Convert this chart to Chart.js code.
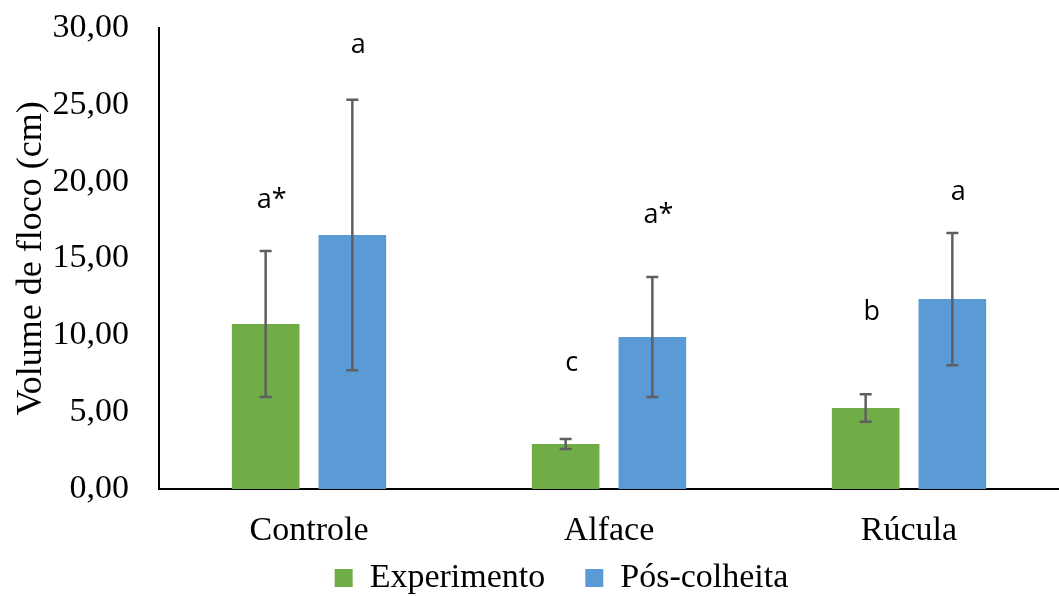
<!DOCTYPE html>
<html>
<head>
<meta charset="utf-8">
<script src="https://cdn.jsdelivr.net/npm/chart.js@4.4.1/dist/chart.umd.min.js"></script>
<style>
    html, body { margin: 0; padding: 0; background: #ffffff; }
    #wrap { width: 1059px; height: 596px; }
</style>
</head>
<body>
<div id="wrap"><canvas id="chart"></canvas></div>
<script>
// Dados
const categorias = ['Controle', 'Alface', 'Rúcula'];
const experimento = [10.74, 2.93, 5.27];
const posColheita = [16.53, 9.89, 12.36];
const erroExperimento = [4.75, 0.33, 0.90];
const erroPosColheita = [8.80, 3.90, 4.30];
const letrasExperimento = ['a*', 'c', 'b'];
const letrasPosColheita = ['a', 'a*', 'a'];
// altura (em cm) onde as letras aparecem
const alturaLetrasExp = [18.8, 8.2, 11.5];
const alturaLetrasPos = [28.9, 17.8, 19.3];

const serif = "'Liberation Serif', 'Times New Roman', serif";

/**
 * Barras de erro e letras de significância
 */
const errorBarsPlugin = {
    id: 'errorBars',
    afterDatasetsDraw(chart) {
        const ctx = chart.ctx;
        const y = chart.scales.y;
        const erros = [erroExperimento, erroPosColheita];
        const letras = [letrasExperimento, letrasPosColheita];
        const alturas = [alturaLetrasExp, alturaLetrasPos];

        chart.data.datasets.forEach((ds, i) => {
            const meta = chart.getDatasetMeta(i);
            meta.data.forEach((bar, j) => {
                const v = ds.data[j];
                const top = y.getPixelForValue(v + erros[i][j]);
                const bottom = y.getPixelForValue(v - erros[i][j]);
                ctx.save();
                ctx.strokeStyle = '#5f5f5f';
                ctx.lineWidth = 2.5;
                ctx.beginPath();
                ctx.moveTo(bar.x, top);
                ctx.lineTo(bar.x, bottom);
                ctx.moveTo(bar.x - 6, top);
                ctx.lineTo(bar.x + 6, top);
                ctx.moveTo(bar.x - 6, bottom);
                ctx.lineTo(bar.x + 6, bottom);
                ctx.stroke();

                ctx.fillStyle = '#000000';
                ctx.font = "27px 'Open Sans', sans-serif";
                ctx.textAlign = 'center';
                ctx.textBaseline = 'middle';
                ctx.fillText(letras[i][j], bar.x + 6, y.getPixelForValue(alturas[i][j]));
                ctx.restore();
            });
        });
    }
};

/**
 * Legenda: altura fixa e deslocamento como no original
 */
const legendFitPlugin = {
    id: 'legendFit',
    beforeLayout(chart) {
        const lg = chart.legend;
        if (lg && !lg._fitPatched) {
            const fit = lg.fit;
            lg.fit = function () {
                fit.call(this);
                this.height = 49;
            };
            lg._fitPatched = true;
        }
    },
    afterLayout(chart) {
        const lg = chart.legend;
        if (lg) {
            lg.left += 32;
            lg.right += 32;
            lg.top -= 26;
            lg.bottom = chart.height;
        }
    }
};

const ctx = document.getElementById('chart');

new Chart(ctx, {
    type: 'bar',
    data: {
        labels: categorias,
        datasets: [{
            label: 'Experimento',
            data: experimento,
            backgroundColor: '#70ad47',
            borderWidth: 0,
        }, {
            label: 'Pós-colheita',
            data: posColheita,
            backgroundColor: '#5b9bd5',
            borderWidth: 0,
        }]
    },
    options: {
        responsive: true,
        maintainAspectRatio: false,
        animation: false,
        categoryPercentage: 0.578,
        barPercentage: 0.78,
        layout: {
            padding: 0
        },
        plugins: {
            legend: {
                display: true,
                position: 'bottom',
                labels: {
                    color: '#000000',
                    boxWidth: 18,
                    boxHeight: 18,
                    padding: 40,
                    font: { family: serif, size: 34 }
                }
            },
            tooltip: { enabled: false }
        },
        scales: {
            y: {
                min: 0,
                max: 30,
                ticks: {
                    stepSize: 5,
                    padding: 30,
                    color: '#000000',
                    font: { family: serif, size: 34 },
                    callback: v => v.toFixed(2).replace('.', ',')
                },
                title: {
                    display: true,
                    text: 'Volume de floco (cm)',
                    color: '#000000',
                    font: { family: serif, size: 36 },
                    padding: { top: 10, bottom: 0 }
                },
                grid: { display: false, drawTicks: false },
                border: { display: true, color: '#000000', width: 2 },
                afterFit: scale => {
                    scale.width = 159;
                    scale.paddingTop = 28;
                    scale.paddingBottom = 0;
                }
            },
            x: {
                ticks: {
                    padding: 22,
                    color: '#000000',
                    font: { family: serif, size: 34 }
                },
                grid: { display: false, drawTicks: false },
                border: { display: true, color: '#000000', width: 2 },
                afterFit: scale => { scale.height = 58; }
            }
        }
    },
    plugins: [errorBarsPlugin, legendFitPlugin]
});
</script>
</body>
</html>
